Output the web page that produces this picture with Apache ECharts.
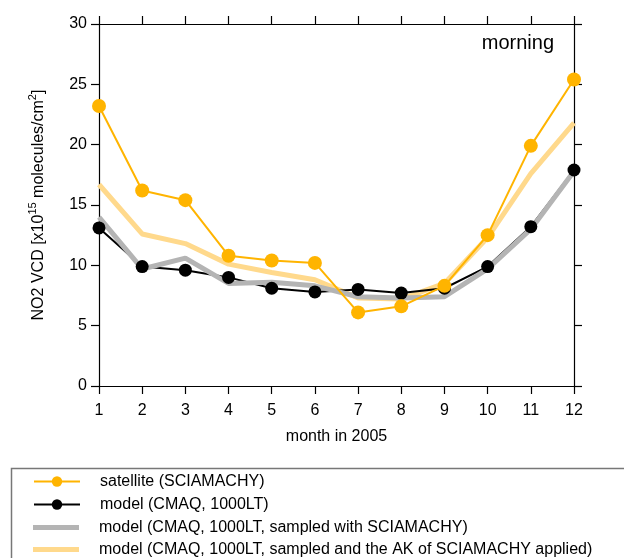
<!DOCTYPE html>
<html>
<head>
<meta charset="utf-8">
<script src="https://cdn.jsdelivr.net/npm/echarts@6/dist/echarts.min.js"></script>
<style>
  html, body { margin: 0; padding: 0; background: #fff; }
  #main { width: 624px; height: 558px; }
</style>
</head>
<body>
<div id="main"></div>
<script>
// months 1..12 of 2005
const months = [1, 2, 3, 4, 5, 6, 7, 8, 9, 10, 11, 12];
// NO2 VCD [x10^15 molecules/cm2]
const satellite = [23.2, 16.2, 15.4, 10.8, 10.4, 10.2, 6.1, 6.6, 8.3, 12.5, 19.9, 25.4];
const model = [13.1, 9.9, 9.6, 9.0, 8.1, 7.8, 8.0, 7.7, 8.1, 9.9, 13.2, 17.9];
const modelSampled = [14.0, 9.7, 10.6, 8.5, 8.6, 8.3, 7.4, 7.3, 7.4, 9.7, 13.0, 17.8];
const modelAK = [16.7, 12.6, 11.8, 10.1, 9.4, 8.8, 7.3, 7.2, 8.5, 12.3, 17.6, 21.8];
const yTicks = [0, 5, 10, 15, 20, 25, 30];

const names = [
  'satellite (SCIAMACHY)',
  'model (CMAQ, 1000LT)',
  'model (CMAQ, 1000LT, sampled with SCIAMACHY)',
  'model (CMAQ, 1000LT, sampled and the AK of SCIAMACHY applied)'
];

function pairs(vals) {
  return months.map((m, i) => [m, vals[i]]);
}

const font = 'Liberation Sans, Arial, Helvetica, sans-serif';
const chart = echarts.init(document.getElementById('main'));

const axisLine = { show: true, onZero: false, lineStyle: { color: '#000', width: 1.2 } };
const axisTick = { show: true, inside: false, length: 8, lineStyle: { color: '#000', width: 1.2 } };

// one legend per row so the thick lines can get a flat icon
function legendRow(i, thick) {
  const rowY = [480, 503, 526, 548][i];
  const h = thick ? 5 : 13;
  return {
    orient: 'vertical',
    left: 33,
    top: rowY - h / 2 - (thick ? 4 : 0),
    padding: 0,
    itemWidth: 46,
    itemHeight: h,
    data: thick ? [{ name: names[i], icon: 'rect' }] : [names[i]],
    textStyle: { fontFamily: font, fontSize: 16, color: '#000', padding: [0, 0, 0, 15] }
  };
}

chart.setOption({
  animation: false,
  backgroundColor: '#fff',
  textStyle: { fontFamily: font },
  title: {
    text: 'morning',
    right: 65,
    top: 28,
    textStyle: { fontFamily: font, fontSize: 20, fontWeight: 'normal', color: '#000' }
  },
  grid: { left: 99, right: 50, top: 24, bottom: 172 },
  legend: [legendRow(0, false), legendRow(1, false), legendRow(2, true), legendRow(3, true)],
  graphic: [{
    type: 'rect',
    left: 9,
    top: 466,
    shape: { width: 700, height: 200 },
    style: { fill: 'none', stroke: '#777', lineWidth: 1.5 },
    silent: true
  }],
  xAxis: [
    {
      type: 'value',
      position: 'bottom',
      min: 1, max: 12, interval: 1,
      axisLine: axisLine,
      axisTick: axisTick,
      splitLine: { show: false },
      axisLabel: { color: '#000', fontSize: 16, margin: 17, fontFamily: font },
      name: 'month in 2005',
      nameLocation: 'middle',
      nameGap: 43,
      nameTextStyle: { color: '#000', fontSize: 16, fontFamily: font }
    },
    {
      type: 'value',
      position: 'top',
      min: 1, max: 12, interval: 1,
      axisLine: axisLine,
      axisTick: axisTick,
      splitLine: { show: false },
      axisLabel: { show: false }
    }
  ],
  yAxis: [
    {
      type: 'value',
      position: 'left',
      min: yTicks[0], max: yTicks[yTicks.length - 1], interval: 5,
      axisLine: axisLine,
      axisTick: axisTick,
      splitLine: { show: false },
      axisLabel: { color: '#000', fontSize: 16, margin: 12, fontFamily: font },
      name: '{n|NO2 VCD [x10}{s|15}{n| molecules/cm}{s|2}{n|]}',
      nameLocation: 'middle',
      nameGap: 52,
      nameRotate: 90,
      nameTextStyle: {
        color: '#000',
        fontFamily: font,
        rich: {
          n: { fontSize: 16, fontFamily: font, color: '#000', verticalAlign: 'bottom', lineHeight: 20 },
          s: { fontSize: 11, fontFamily: font, color: '#000', verticalAlign: 'top', lineHeight: 20, padding: [0, 0, 8, 0] }
        }
      }
    },
    {
      type: 'value',
      position: 'right',
      min: yTicks[0], max: yTicks[yTicks.length - 1], interval: 5,
      axisLine: axisLine,
      axisTick: axisTick,
      splitLine: { show: false },
      axisLabel: { show: false }
    }
  ],
  series: [
    {
      name: names[0],
      type: 'line',
      data: pairs(satellite),
      symbol: 'circle',
      symbolSize: 14,
      showAllSymbol: true,
      z: 4,
      lineStyle: { color: '#FFB400', width: 2 },
      itemStyle: { color: '#FFB400' }
    },
    {
      name: names[1],
      type: 'line',
      data: pairs(model),
      symbol: 'circle',
      symbolSize: 13,
      showAllSymbol: true,
      z: 3,
      lineStyle: { color: '#000', width: 2 },
      itemStyle: { color: '#000' }
    },
    {
      name: names[2],
      type: 'line',
      data: pairs(modelSampled),
      showSymbol: false,
      symbol: 'none',
      z: 3,
      lineStyle: { color: '#B4B4B4', width: 5 },
      itemStyle: { color: '#B4B4B4' }
    },
    {
      name: names[3],
      type: 'line',
      data: pairs(modelAK),
      showSymbol: false,
      symbol: 'none',
      z: 2,
      lineStyle: { color: '#FFD98C', width: 5 },
      itemStyle: { color: '#FFD98C' }
    }
  ]
});
</script>
</body>
</html>
